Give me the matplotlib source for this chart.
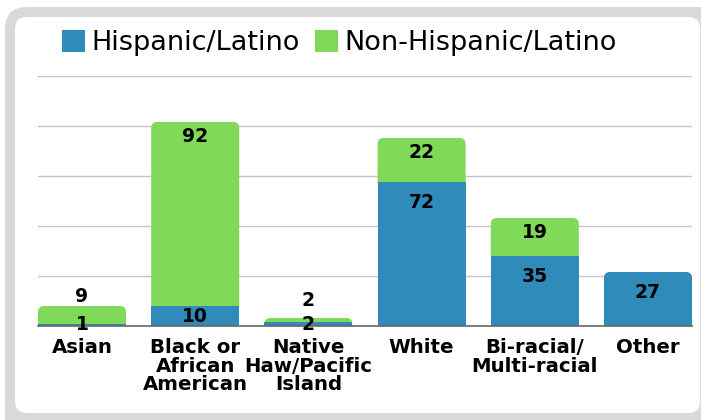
"""
Stacked bar chart: ethnicity by race, with rounded bar tops and a rounded frame.
"""

import matplotlib
matplotlib.use("Agg")
import matplotlib.pyplot as plt
from matplotlib.patches import FancyBboxPatch, Rectangle

categories = ["Asian", "Black or\nAfrican\nAmerican", "Native\nHaw/Pacific\nIsland",
              "White", "Bi-racial/\nMulti-racial", "Other"]
hispanic = [1, 10, 2, 72, 35, 27]
non_hispanic = [9, 92, 2, 22, 19, 0]
series_names = ["Hispanic/Latino", "Non-Hispanic/Latino"]

BLUE = "#2E8BBA"
GREEN = "#80D958"
W, H = 701, 420

plt.rcParams["font.family"] = ["DejaVu Sans"]

fig = plt.figure(figsize=(W / 100, H / 100), dpi=100)

# rounded frame (pixel coords, origin bottom-left)
frame_out = FancyBboxPatch((5, -30), 730, H - 7 + 30, boxstyle="round,pad=0,rounding_size=22",
                           transform=None, facecolor="#D9D9D9", edgecolor="none", zorder=-2)
frame_in = FancyBboxPatch((15, 7), 685, 396, boxstyle="round,pad=0,rounding_size=12",
                          transform=None, facecolor="white", edgecolor="none", zorder=-1)
fig.patches.extend([frame_out, frame_in])

base_y, top_y = 326, 76
ax = fig.add_axes([38 / W, (H - base_y) / H, (692 - 38) / W, (base_y - top_y) / H])
ax.set_facecolor("none")
ax.set_zorder(1)

bw = 88 / 113.2
n = len(categories)
ax.set_xlim(-bw / 2, n - 1 + bw / 2)
ax.set_ylim(0, 125)
ax.set_yticks([25, 50, 75, 100, 125])
ax.yaxis.grid(True, color="#C4C4C4", lw=1)
ax.set_axisbelow(True)
ax.tick_params(axis="y", left=False, labelleft=False)
ax.tick_params(axis="x", bottom=False, pad=5)
for s in ["top", "right", "left"]:
    ax.spines[s].set_visible(False)
ax.spines["bottom"].set_color("#666666")
ax.spines["bottom"].set_linewidth(1.2)
ax.spines["bottom"].set_zorder(5)

ax.set_xticks(range(n))
ax.set_xticklabels(categories, fontsize=14.2, fontweight="bold", linespacing=0.98)

# data-unit rounding: aspect between x and y pixels
px_x = 654 / (n - 1 + bw)
px_y = (base_y - top_y) / 125
aspect = px_x / px_y
r = 6 / px_x
ry = r * aspect


def rounded(x0, y0, height, color, z):
    p = FancyBboxPatch((x0, y0), bw, height, boxstyle=f"round,pad=0,rounding_size={r}",
                       mutation_aspect=aspect, facecolor=color, edgecolor="none", zorder=z)
    ax.add_patch(p)


for i, (h, nh) in enumerate(zip(hispanic, non_hispanic)):
    x0 = i - bw / 2
    total = h + nh
    if nh > 0:
        rounded(x0, h - ry, nh + ry, GREEN, 2)
        ax.add_patch(Rectangle((x0, 0), bw, h, facecolor=BLUE, edgecolor="none", zorder=3))
        if nh >= 10:
            gy = total - 7.5
        else:
            gy = max(total + 5, 13)
        ax.text(i, gy, str(nh), ha="center", va="center", fontsize=13.5,
                fontweight="bold", zorder=6)
    else:
        rounded(x0, -ry, h + ry, BLUE, 3)
    ax.text(i, max(h - 10, h / 2), str(h), ha="center", va="center", fontsize=13.5,
            fontweight="bold", zorder=6)

handles = [Rectangle((0, 0), 1, 1, facecolor=BLUE), Rectangle((0, 0), 1, 1, facecolor=GREEN)]
leg = fig.legend(handles, series_names, loc="center left", bbox_to_anchor=(62 / W, (H - 43) / H),
                 ncol=2, frameon=False, fontsize=19.5, handlelength=0.85, handleheight=0.85,
                 handletextpad=0.25, columnspacing=0.55, borderpad=0, borderaxespad=0)
leg.set_zorder(2)

fig.savefig("out.png", dpi=100)
